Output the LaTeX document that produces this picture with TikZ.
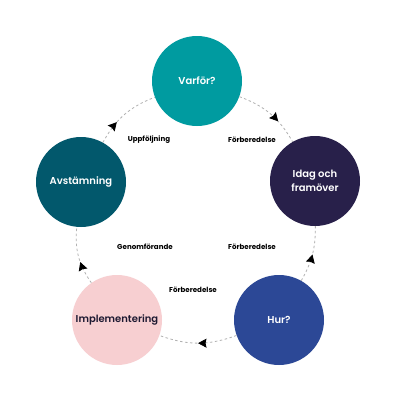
\documentclass[tikz,border=0pt]{standalone}
\usepackage{fontspec}
\setmainfont{Poppins}[BoldFont={Poppins SemiBold}]
\newfontfamily\lblfont{Poppins Bold}
\usetikzlibrary{arrows.meta,decorations.markings}
\definecolor{cTeal}{RGB}{0,155,160}
\definecolor{cPetrol}{RGB}{2,88,108}
\definecolor{cNavy}{RGB}{40,32,74}
\definecolor{cBlue}{RGB}{44,72,150}
\definecolor{cPink}{RGB}{247,207,209}
\definecolor{cInk}{RGB}{30,26,50}
\begin{document}
\begin{tikzpicture}[x=1pt,y=-1pt,
  stage/.style={circle,minimum size=90pt,inner sep=0pt,text=white,font=\bfseries\fontsize{10}{13.5}\selectfont,align=center},
  lbl/.style={font=\lblfont\fontsize{7.1}{8}\selectfont,text=black},
  flow/.style={draw=gray!60,dash pattern=on 2.5pt off 2.5pt,line width=0.8pt,postaction={decorate},
    decoration={markings,mark=at position #1 with {\arrow[black,solid]{Stealth[length=8.5pt,width=9pt,inset=1pt]}}}}]
\useasboundingbox (0,0) rectangle (400,400);
\fill[white] (0,0) rectangle (400,400);
\node[stage,fill=cTeal] (varfor) at (197,81) {Varför?};
\node[stage,fill=cNavy] (idag) at (315,181) {Idag och\\framöver};
\node[stage,fill=cBlue] (hur) at (279,320) {Hur?};
\node[stage,fill=cPink,text=cInk] (impl) at (117,320) {Implementering};
\node[stage,fill=cPetrol] (avst) at (81,182) {Avstämning};
\draw[flow=0.65] (varfor) to[bend left=20] (idag);
\draw[flow=0.5] (hur) to[bend right=15] (idag);
\draw[flow=0.5] (hur) to[bend left=20] (impl);
\draw[flow=0.4] (impl) to[bend left=20] (avst);
\draw[flow=0.35] (avst) to[bend left=20] (varfor);
\node[lbl] (l1) at (149,140) {Uppföljning};
\node[lbl] (l2) at (252,140) {Förberedelse};
\node[lbl] (l3) at (145,247) {Genomförande};
\node[lbl] (l4) at (252,247) {Förberedelse};
\node[lbl] (l5) at (193,290) {Förberedelse};
\end{tikzpicture}
\end{document}
